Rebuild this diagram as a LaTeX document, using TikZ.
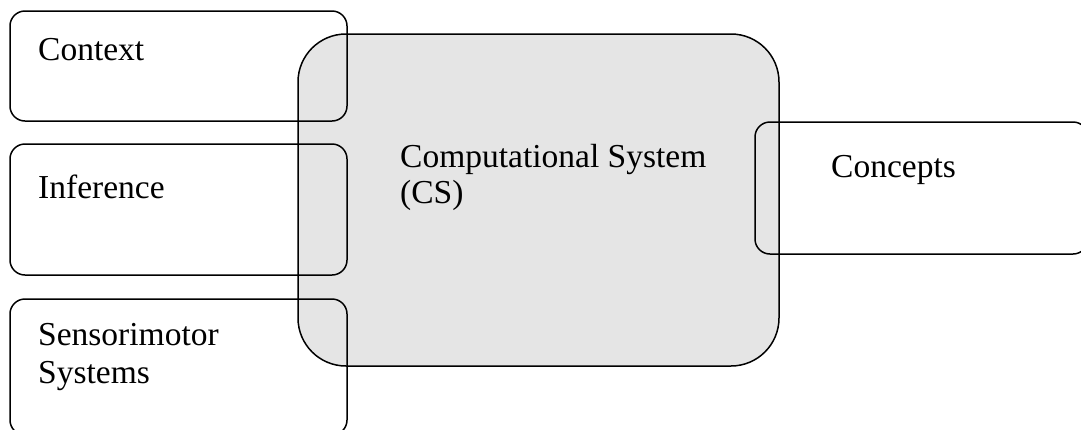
\documentclass[tikz,border=0pt]{standalone}
\usepackage{fontspec}
\setmainfont{Liberation Serif}
\begin{document}
\begin{tikzpicture}[x=1pt,y=-1pt,
  box/.style={draw=black,line width=1.5pt,rounded corners=15pt,inner sep=0pt},
  bigbox/.style={draw=black,line width=1.5pt,rounded corners=48pt,fill=csgray,inner sep=0pt},
  lbl/.style={anchor=base west,inner sep=0pt,font=\fontsize{33.5}{36}\selectfont,align=left}]
\definecolor{csgray}{RGB}{229,229,229}
\useasboundingbox (0,0) rectangle (1081,429);
\clip (0,0) rectangle (1081,429);
\node[bigbox,minimum width=481pt,minimum height=332pt] (cs) at (538.5,200) {};
\node[box,minimum width=337pt,minimum height=110pt] (ctx) at (178.5,66) {};
\node[box,minimum width=337pt,minimum height=131pt] (inf) at (178.5,209.5) {};
\node[box,minimum width=337pt,minimum height=136pt] (sen) at (178.5,367) {};
\node[box,minimum width=333pt,minimum height=132pt] (con) at (921.5,188) {};
\node[lbl] (ctxt) at (38,60) {Context};
\node[lbl] (inft) at (38,198) {Inference};
\node[lbl] (sent1) at (38,345) {Sensorimotor};
\node[lbl] (sent2) at (38,383) {Systems};
\node[lbl] (cst1) at (400,167) {Computational System};
\node[lbl] (cst2) at (400,203) {(CS)};
\node[lbl] (cont) at (831,177) {Concepts};
\end{tikzpicture}
\end{document}
